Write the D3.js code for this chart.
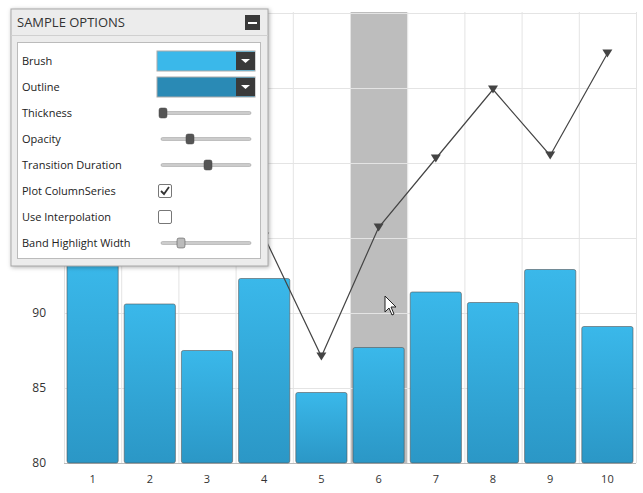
<!DOCTYPE html>
<html><head><meta charset="utf-8">
<script src="https://cdn.jsdelivr.net/npm/d3@7"></script>
<style>
body{margin:0;background:#fff;font-family:"Open Sans",sans-serif;}
</style></head>
<body><div id="runApp"></div>
<script>
const categories = ["1","2","3","4","5","6","7","8","9","10"];
const columnValues = [93.4, 90.6, 87.5, 92.3, 84.7, 87.7, 91.4, 90.7, 92.9, 89.1];
const lineValues = [97.5, 103, 99.5, 95.1, 87.1, 95.7, 100.3, 104.9, 100.5, 107.3];
const yTicks = [80, 85, 90, 95, 100, 105, 110];
const yLabels = [80, 85, 90];
const highlighted = "6";
const optionLabels = ["Brush","Outline","Thickness","Opacity","Transition Duration","Plot ColumnSeries","Use Interpolation","Band Highlight Width"];
const sliderPositions = {Thickness: 0, Opacity: 0.3, "Transition Duration": 0.5, "Band Highlight Width": 0.2};

const W = 643, H = 493;
const svg = d3.select("#runApp").append("svg").attr("width", W).attr("height", H);
const defs = svg.append("defs");
const g1 = defs.append("linearGradient").attr("id","bar").attr("x1",0).attr("y1",0).attr("x2",0).attr("y2",1);
g1.append("stop").attr("offset","0%").attr("stop-color","#3ab8ea");
g1.append("stop").attr("offset","100%").attr("stop-color","#2b97c6");

const x = d3.scaleBand().domain(categories).range([64, 636]);
const y = d3.scaleLinear().domain([80, 110]).range([463, 13]);

// band highlight
svg.append("rect").attr("x", x(highlighted)).attr("y", 12).attr("width", x.bandwidth())
  .attr("height", 451).attr("fill", "#bdbdbd");

// gridlines
svg.selectAll(".hg").data(yTicks).join("line")
  .attr("x1", 64).attr("x2", 636).attr("y1", d => y(d)+0.5).attr("y2", d => y(d)+0.5)
  .attr("stroke", "#e4e4e4");
svg.selectAll(".vg").data(categories.concat(["end"])).join("line")
  .attr("x1", (d,i) => 64 + i*x.step()+0.5).attr("x2", (d,i) => 64 + i*x.step()+0.5)
  .attr("y1", 12).attr("y2", 463).attr("stroke", "#e4e4e4");
svg.append("line").attr("x1",64).attr("x2",636).attr("y1",463.5).attr("y2",463.5).attr("stroke","#bbb");

// columns
svg.selectAll(".bar").data(columnValues).join("rect")
  .attr("x", (d,i) => x(categories[i]) + 3).attr("width", x.bandwidth() - 6)
  .attr("y", d => y(d)).attr("height", d => y(80) - y(d))
  .attr("rx", 2).attr("fill", "url(#bar)").attr("stroke", "#555").attr("stroke-width", 0.6);

// line
const cx = (d,i) => x(categories[i]) + x.bandwidth()/2;
svg.append("path").datum(lineValues)
  .attr("d", d3.line().x(cx).y(d => y(d)))
  .attr("fill","none").attr("stroke","#444").attr("stroke-width",1.2);
svg.selectAll(".mk").data(lineValues).join("path")
  .attr("transform", (d,i) => `translate(${cx(d,i)},${y(d)})`)
  .attr("d", "M-5,-4L5,-4L0,4Z").attr("fill","#444");

// axes labels
svg.selectAll(".yl").data(yLabels).join("text")
  .attr("x", 46).attr("y", d => y(d)).attr("dy","0.35em").attr("text-anchor","end")
  .attr("font-size", 12).attr("fill","#333").text(d => d);
svg.selectAll(".xl").data(categories).join("text")
  .attr("x", (d,i) => cx(0,i)).attr("y", 483).attr("text-anchor","middle")
  .attr("font-size", 11).attr("fill","#333").text(d => d);

// cursor
svg.append("path").attr("d","M385,296 L385,312 L389,308 L392,315 L394,314 L391,307 L396,307 Z")
  .attr("fill","#fff").attr("stroke","#222").attr("stroke-width",1);

// options panel
const p = svg.append("g");
p.append("rect").attr("x",11).attr("y",9).attr("width",257).attr("height",257).attr("fill","#ececec")
  .attr("stroke","#a9a9a9").style("filter","drop-shadow(1px 1px 2px rgba(0,0,0,0.3))");
p.append("line").attr("x1",11).attr("x2",268).attr("y1",35.5).attr("y2",35.5).attr("stroke","#d0d0d0");
p.append("text").attr("x",17).attr("y",27).attr("font-size",13).attr("fill","#333").text("SAMPLE OPTIONS");
p.append("rect").attr("x",245).attr("y",15).attr("width",15).attr("height",15).attr("fill","#3a3a3a");
p.append("rect").attr("x",248).attr("y",22).attr("width",9).attr("height",2).attr("fill","#fff");
p.append("rect").attr("x",17.5).attr("y",42.5).attr("width",243).attr("height",216).attr("fill","#fff").attr("stroke","#bbb");

optionLabels.forEach((lab, i) => {
  const cy = 61 + i*26;
  p.append("text").attr("x",22).attr("y",cy).attr("dy","0.35em").attr("font-size",11).attr("fill","#222").text(lab);
  if (i < 2) {
    p.append("rect").attr("x",157).attr("y",cy-10).attr("width",98).attr("height",20)
      .attr("fill", i === 0 ? "#3ab8ea" : "#2a8ab5").attr("stroke","#aaa");
    p.append("rect").attr("x",236).attr("y",cy-9).attr("width",19).attr("height",18).attr("fill","#3a3a3a");
    p.append("path").attr("d",`M241,${cy-2}L250,${cy-2}L245.5,${cy+2}Z`).attr("fill","#fff");
  } else if (lab in sliderPositions) {
    p.append("rect").attr("x",161).attr("y",cy-1.5).attr("width",90).attr("height",3).attr("rx",1.5)
      .attr("fill","#ccc").attr("stroke","#999").attr("stroke-width",0.5);
    const hx = 161 + sliderPositions[lab]*90;
    p.append("rect").attr("x",hx-2).attr("y",cy-5).attr("width",8).attr("height",10).attr("rx",2)
      .attr("fill", lab === "Band Highlight Width" ? "#bbb" : "#555").attr("stroke","#444").attr("stroke-width",0.5);
  } else {
    p.append("rect").attr("x",158.5).attr("y",cy-6.5).attr("width",13).attr("height",13).attr("rx",1.5)
      .attr("fill","#fff").attr("stroke","#777");
    if (lab === "Plot ColumnSeries")
      p.append("path").attr("d",`M161,${cy}L164,${cy+3}L169,${cy-4}`).attr("fill","none").attr("stroke","#333").attr("stroke-width",1.8);
  }
});
</script></body></html>
